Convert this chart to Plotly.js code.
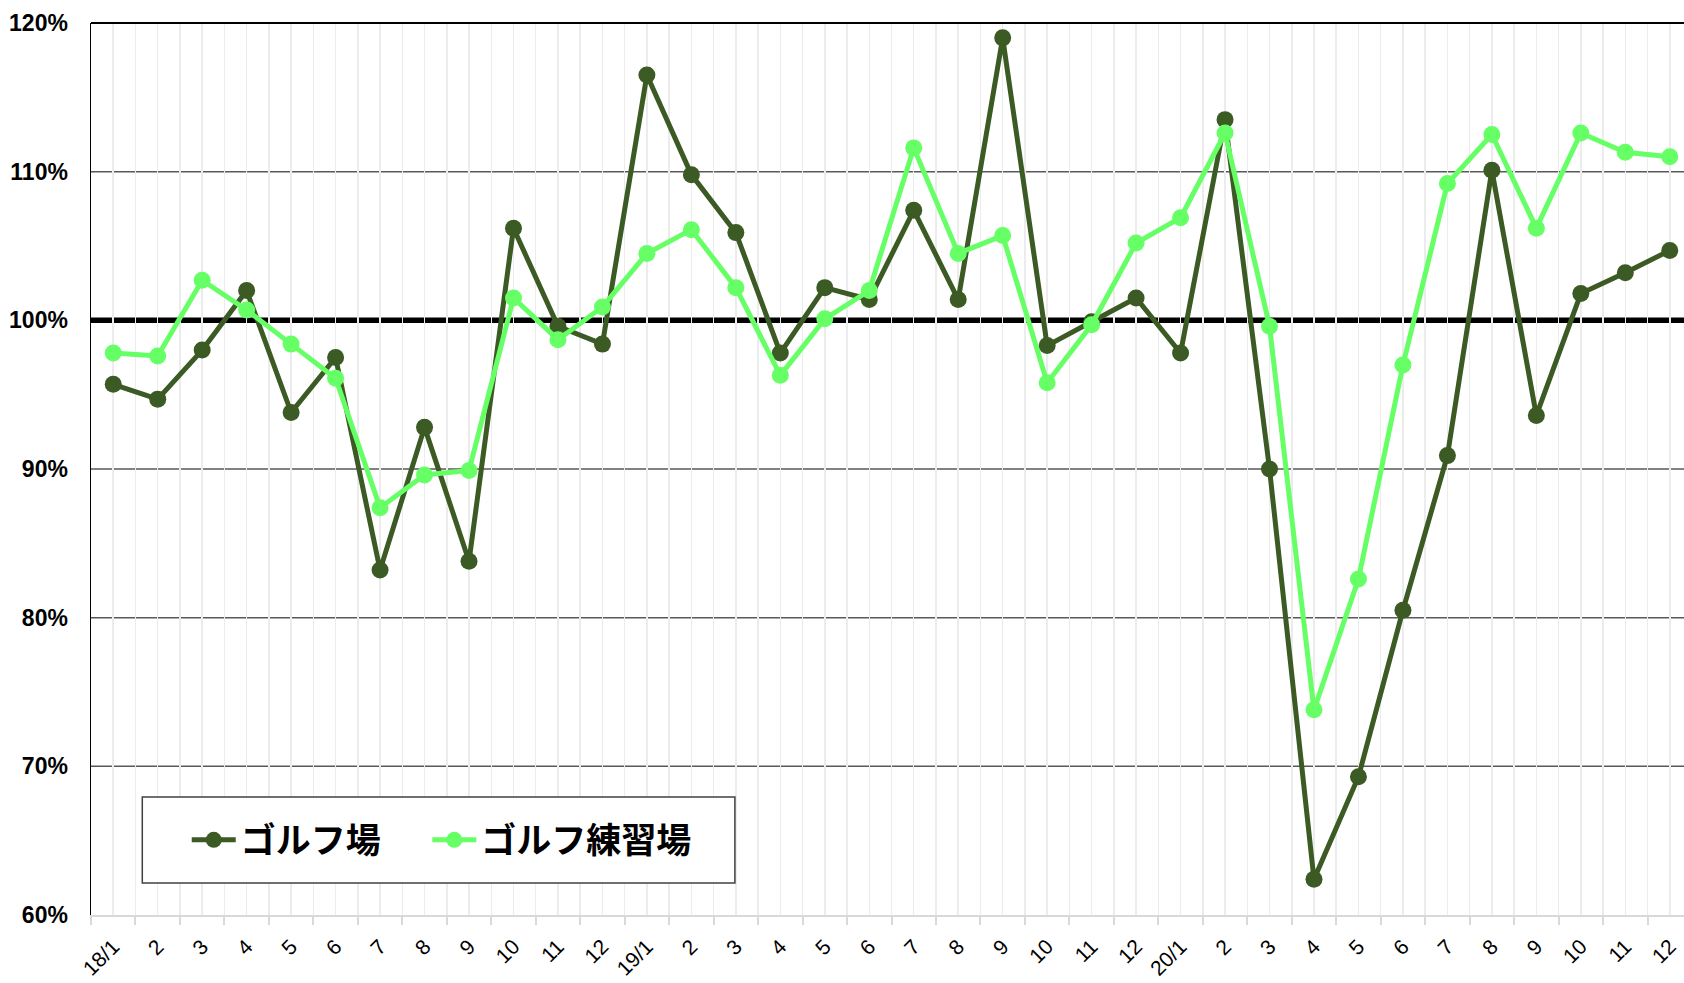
<!DOCTYPE html>
<html><head><meta charset="utf-8">
<script src="https://cdn.plot.ly/plotly-3.0.1.min.js"></script>
<style>html,body{margin:0;padding:0;background:#fff;} #chart{width:1684px;height:983px;}</style>
</head><body><div id="chart"></div>
<script>
const monthLabels = ['18/1','2','3','4','5','6','7','8','9','10','11','12',
                     '19/1','2','3','4','5','6','7','8','9','10','11','12',
                     '20/1','2','3','4','5','6','7','8','9','10','11','12'];
const golfCourse = [95.7, 94.7, 98.0, 102.0, 93.8, 97.5, 83.2, 92.8, 83.8, 106.2, 99.6, 98.4,
                    116.5, 109.8, 105.9, 97.8, 102.2, 101.4, 107.4, 101.4, 119.0, 98.3, 99.9, 101.5,
                    97.8, 113.5, 90.0, 62.4, 69.3, 80.5, 90.9, 110.1, 93.6, 101.8, 103.2, 104.7];
const golfRange = [97.8, 97.6, 102.7, 100.7, 98.4, 96.1, 87.4, 89.6, 89.9, 101.5, 98.7, 100.9,
                   104.5, 106.1, 102.2, 96.3, 100.1, 102.0, 111.6, 104.5, 105.7, 95.8, 99.7, 105.2,
                   106.9, 112.6, 99.6, 73.8, 82.6, 97.0, 109.2, 112.5, 106.2, 112.6, 111.3, 111.0];
const seriesNames = ['ゴルフ場', 'ゴルフ練習場'];
const yTickVals = [60, 70, 80, 90, 100, 110, 120];
const gridLevels = [70, 80, 90, 110];
const baseline = 100;

const xIndex = monthLabels.map((_, i) => i);
const darkGreen = '#3b5a24';
const lightGreen = '#66ff66';

const traces = [
  {x: xIndex, y: golfCourse, name: seriesNames[0], type: 'scatter', mode: 'lines+markers', legend: 'legend',
   line: {color: darkGreen, width: 5}, marker: {color: darkGreen, size: 17}},
  {x: xIndex, y: golfRange, name: seriesNames[1], type: 'scatter', mode: 'lines+markers', legend: 'legend2',
   line: {color: lightGreen, width: 5}, marker: {color: lightGreen, size: 17}}
];

const shapes = gridLevels.map(v => ({type: 'line', xref: 'paper', x0: 0, x1: 1, yref: 'y', y0: v, y1: v,
  layer: 'below', line: {color: '#595959', width: 1.5}}));
shapes.push({type: 'line', xref: 'paper', x0: 0, x1: 1, yref: 'y', y0: baseline, y1: baseline,
  layer: 'below', line: {color: '#000', width: 5.5}});
shapes.push({type: 'line', xref: 'paper', x0: 0, x1: 1, yref: 'paper', y0: 1, y1: 1,
  layer: 'above', line: {color: '#000', width: 2}});
shapes.push({type: 'rect', xref: 'paper', yref: 'paper', x0: 0.0322, x1: 0.4042, y0: 0.0359, y1: 0.1322,
  layer: 'above', fillcolor: '#fff', line: {color: '#404040', width: 1.5}});

const fontSans = '"Liberation Sans", Arial, sans-serif';
const legendFont = {family: '"Noto Sans CJK JP", sans-serif', size: 35, color: '#000', weight: 'bold'};

const layout = {
  width: 1684, height: 983,
  margin: {l: 90.5, r: 0, t: 22.5, b: 68},
  paper_bgcolor: '#fff', plot_bgcolor: '#fff',
  showlegend: true,
  xaxis: {
    range: [-0.5, 35.32], tickmode: 'array', tickvals: xIndex, ticktext: monthLabels,
    tickangle: -45, showgrid: true, gridcolor: '#ececec', gridwidth: 1.5,
    zeroline: false, showline: true, linecolor: '#d9d9d9', linewidth: 2, ticks: '',
    ticklabelstandoff: 9,
    tickfont: {family: fontSans, size: 21, color: '#000'},
    minor: {tickmode: 'linear', tick0: -0.5, dtick: 1, ticks: 'outside', ticklen: 8,
            tickcolor: '#d9d9d9', tickwidth: 2, showgrid: true, gridcolor: '#ececec', gridwidth: 1.5}
  },
  yaxis: {
    range: [60, 120], tickmode: 'array', tickvals: yTickVals, ticktext: yTickVals.map(v => v + '%'),
    showgrid: false, zeroline: false, showline: true, linecolor: '#000', linewidth: 1.5, ticks: '',
    ticklabelstandoff: 17,
    tickfont: {family: fontSans, size: 23, color: '#000', weight: 'bold'}
  },
  legend: {
    orientation: 'h', x: 0.0601, xanchor: 'left', y: 0.084, yanchor: 'middle',
    bgcolor: 'rgba(0,0,0,0)', borderwidth: 0, itemwidth: 44, font: legendFont
  },
  legend2: {
    orientation: 'h', x: 0.2111, xanchor: 'left', y: 0.084, yanchor: 'middle',
    bgcolor: 'rgba(0,0,0,0)', borderwidth: 0, itemwidth: 44, font: legendFont
  },
  shapes: shapes
};

Plotly.newPlot('chart', traces, layout, {displayModeBar: false, staticPlot: true});
</script>
</body></html>
